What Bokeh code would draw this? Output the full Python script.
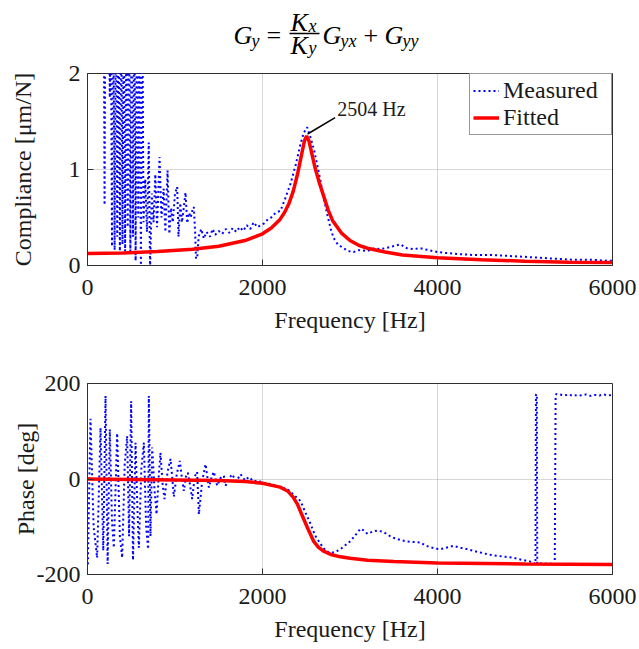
from bokeh.plotting import figure
from bokeh.layouts import column
from bokeh.models import Range1d, Legend, LegendItem, Label, FixedTicker
from bokeh.core.properties import value
from bokeh.embed import file_html
from bokeh.resources import INLINE

FONT = "Liberation Serif"
TXT = "#1a1a1a"
AX = "#303030"

# ---------------- data ----------------
comp_meas_f = [0, 185, 195, 205, 240, 255, 265, 280, 295, 310, 325, 340, 355, 370, 385, 400, 415,
               430, 445, 460, 475, 490, 505, 520, 535, 550, 565, 580, 595, 610, 625, 640, 660,
               680, 700, 715, 735, 755, 775, 795, 823, 845, 870, 890, 915, 935, 955, 975, 1000,
               1025, 1040, 1060, 1080, 1100, 1120, 1140, 1160, 1180, 1200, 1215, 1230, 1240,
               1255, 1270, 1300, 1330, 1360, 1400, 1430, 1460, 1500, 1540, 1580, 1620, 1660,
               1700, 1740, 1780, 1820, 1860, 1900, 1940, 1980, 2020, 2060, 2100, 2150, 2206,
               2260, 2320, 2380, 2430, 2470, 2510, 2550, 2590, 2625, 2663, 2700, 2743, 2780,
               2811, 2860, 2926, 2980, 3040, 3100, 3200, 3280, 3350, 3450, 3577, 3650, 3726,
               3800, 3900, 4000, 4100, 4229, 4400, 4606, 4800, 5000, 5177, 5350, 5554, 5750,
               5943, 6000]
comp_meas_v = [3.0, 3.0, 0.63, 3.0, 3.0, 1.75, 3.0, 0.2, 3.0, 0.16, 3.0, 0.3, 3.0, 0.15, 3.0, 0.22,
               3.0, 0.15, 3.0, 0.4, 3.0, 0.12, 3.0, 0.3, 3.0, 0.05, 3.0, 0.5, 3.0, -0.05, 3.0,
               0.45, 0.9, 0.35, 1.28, -0.05, 0.75, 0.45, 0.95, 0.4, 1.13, 0.5, 0.8, 0.35, 0.99,
               0.33, 0.6, 0.45, 0.75, 0.82, 0.3, 0.65, 0.45, 0.6, 0.76, 0.44, 0.55, 0.5, 0.58,
               0.61, 0.35, 0.07, 0.1, 0.3, 0.38, 0.28, 0.35, 0.3, 0.38, 0.32, 0.36, 0.33, 0.38,
               0.34, 0.39, 0.35, 0.4, 0.36, 0.42, 0.38, 0.45, 0.4, 0.42, 0.44, 0.48, 0.5, 0.55,
               0.57, 0.7, 0.85, 1.05, 1.25, 1.38, 1.44, 1.33, 1.2, 1.05, 0.88, 0.7, 0.52, 0.38,
               0.29, 0.22, 0.18, 0.15, 0.14, 0.16, 0.15, 0.18, 0.17, 0.19, 0.22, 0.18, 0.17,
               0.18, 0.16, 0.14, 0.13, 0.12, 0.11, 0.11, 0.1, 0.09, 0.08, 0.07, 0.06, 0.06,
               0.05, 0.05]

comp_fit_f = [0, 400, 800, 1200, 1500, 1800, 2000, 2100, 2200, 2250, 2300, 2350, 2400, 2450,
              2480, 2504, 2530, 2560, 2600, 2650, 2700, 2750, 2800, 2900, 3000, 3100, 3200,
              3400, 3600, 4000, 4500, 5000, 5500, 6000]
comp_fit_v = [0.125, 0.13, 0.145, 0.17, 0.2, 0.26, 0.33, 0.39, 0.48, 0.55, 0.64, 0.77, 0.95,
              1.17, 1.3, 1.35, 1.3, 1.18, 1.02, 0.86, 0.72, 0.58, 0.47, 0.34, 0.26, 0.21, 0.18,
              0.14, 0.11, 0.08, 0.06, 0.045, 0.035, 0.03]

phase_meas_f = [0, 4, 34, 70, 110, 149, 180, 206, 230, 255, 280, 301, 339, 370, 396, 425, 453,
                475, 499, 520, 549, 570, 587, 615, 644, 670, 693, 701, 720, 739, 765, 789, 812,
                834, 858, 880, 915, 949, 970, 987, 1020, 1055, 1080, 1101, 1125, 1147, 1170,
                1196, 1225, 1253, 1273, 1310, 1349, 1387, 1420, 1444, 1482, 1520, 1558, 1577,
                1615, 1653, 1700, 1749, 1800, 1844, 1900, 1950, 2000, 2080, 2150, 2220, 2286,
                2350, 2434, 2490, 2549, 2600, 2663, 2720, 2777, 2830, 2891, 2950, 3006, 3060,
                3120, 3160, 3200, 3260, 3314, 3383, 3440, 3497, 3580, 3657, 3730, 3806, 3860,
                3920, 3980, 4034, 4100, 4183, 4260, 4343, 4420, 4491, 4580, 4686, 4780, 4869,
                4930, 4983, 5040, 5097, 5120, 5125, 5135, 5140, 5200, 5260, 5330, 5340, 5350,
                5360, 5400, 5450, 5500, 5550, 5600, 5650, 5700, 5750, 5800, 5850, 5900, 5950,
                6000]
phase_meas_v = [-178, -178, 126, -100, -165, 107, -150, 174, -178, 104, -90, -144, 96, -120,
                -165, 30, 90, -120, 163, -170, 76, -60, -144, 20, 76, -100, -147, 174, -120, 66,
                -20, -74, 0, 55, -10, -42, 15, 42, 0, -37, 10, 38, 0, -25, 5, 13, -10, -42, 5,
                15, -74, -5, 31, -18, 5, 15, -14, 2, 7, -14, 0, 10, -5, 10, -3, 4, -5, -3, -8,
                -10, -14, -18, -21, -32, -46, -70, -94, -118, -136, -150, -155, -153, -147,
                -138, -130, -118, -104, -108, -115, -110, -108, -111, -118, -123, -128, -131,
                -132, -133, -139, -143, -146, -147, -144, -140, -144, -147, -151, -154, -158,
                -161, -163, -165, -168, -170, -172, -175, -178, 176, 178, -178, -176, -178,
                -177, -179, 176, 178, 177, 175, 177, 174, 176, 175, 177, 174, 176, 175, 177,
                175, 176]

phase_fit_f = [0, 500, 1000, 1500, 1800, 2000, 2200, 2286, 2350, 2400, 2450, 2514, 2583, 2640,
               2697, 2780, 2891, 3000, 3200, 3500, 4000, 5000, 6000]
phase_fit_v = [0, -1, -2, -3, -5, -9, -17, -25, -38, -53, -75, -102, -130, -143, -151, -158,
               -163, -166, -170, -173, -176, -178, -179]

peak_freq = 2504
peak_comp = 1.37
peak_label = "2504 Hz"

x_ticks = [0, 2000, 4000, 6000]
comp_ticks = [0, 1, 2]
phase_ticks = [-200, 0, 200]

# ---------------- title (math expression drawn from text pieces) ----------------
W = 639
FL, FR = 87, 612   # frame edges (the column aligns frames of all figures)
TH = 59
tfig = figure(width=W, height=TH, x_range=Range1d(FL, FR), y_range=Range1d(TH, 0),
              toolbar_location=None, output_backend="svg", min_border=0,
              min_border_left=FL, min_border_right=W - FR,
              x_axis_location=None, y_axis_location=None)
tfig.grid.visible = False
tfig.outline_line_color = None

big_text = ["G", "K", "K", "G", "G"]
big_x = [233, 290, 290, 322, 384]
big_y = [35, 22, 45, 35, 35]
sub_text = ["y", "x", "y", "yx", "yy"]
sub_x = [251, 308, 308, 340, 402]
sub_y = [40, 25, 47, 40, 40]
tfig.text(x=big_x, y=big_y, text=big_text, text_font_size="26px",
          text_font=value(FONT), text_font_style="italic", text_color="black",
          text_baseline="alphabetic", text_align="left")
tfig.text(x=sub_x, y=sub_y, text=sub_text, text_font_size="18px",
          text_font=value(FONT), text_font_style="italic", text_color="black",
          text_baseline="alphabetic", text_align="left")
tfig.text(x=[266, 363], y=[35, 35], text=["=", "+"], text_font_size="26px",
          text_font=value(FONT), text_color="black", text_baseline="alphabetic",
          text_align="left")
tfig.segment(x0=[289], y0=[33], x1=[319], y1=[33], line_color="black", line_width=1.3)


def style(p, ylabel, yticks, label_standoff):
    p.outline_line_color = AX
    p.outline_line_width = 1
    p.outline_line_alpha = 1
    for ax in (p.xaxis, p.yaxis):
        ax.axis_line_color = AX
        ax.major_tick_line_color = AX
        ax.major_tick_in = 6
        ax.major_tick_out = 0
        ax.minor_tick_line_color = None
        ax.major_label_text_font = FONT
        ax.major_label_text_font_size = "24px"
        ax.major_label_text_color = TXT
        ax.axis_label_text_font = FONT
        ax.axis_label_text_font_size = "24px"
        ax.axis_label_text_font_style = "normal"
        ax.axis_label_text_color = TXT
    p.xaxis.axis_label = "Frequency [Hz]"
    p.xaxis.ticker = FixedTicker(ticks=x_ticks)
    p.xaxis.major_label_standoff = 14
    p.xaxis.axis_label_standoff = 9
    p.yaxis.axis_label = ylabel
    p.yaxis.ticker = FixedTicker(ticks=yticks)
    p.yaxis.major_label_overrides = {t: str(t) for t in yticks}
    p.yaxis.major_label_standoff = 7
    p.yaxis.axis_label_standoff = label_standoff
    p.grid.grid_line_color = "#262626"
    p.grid.grid_line_alpha = 0.18
    p.grid.grid_line_width = 1
    p.xgrid.ticker = FixedTicker(ticks=x_ticks)
    p.ygrid.ticker = FixedTicker(ticks=yticks)


# ---------------- compliance ----------------
p1 = figure(width=W, height=276, x_range=Range1d(0, 6000), y_range=Range1d(0, 2),
            toolbar_location=None, output_backend="svg",
            min_border_left=FL, min_border_right=W - FR, min_border_top=14, min_border_bottom=70)
style(p1, "Compliance [μm/N]", comp_ticks, 30)
r_meas = p1.line(comp_meas_f, comp_meas_v, line_color="#0000ff", line_width=2, line_dash="2 3")
r_fit = p1.line(comp_fit_f, comp_fit_v, line_color="#ff0000", line_width=3.5)
p1.segment(x0=[peak_freq + 11], y0=[peak_comp], x1=[peak_freq + 326], y1=[1.54],
           line_color="black", line_width=1.5)
p1.add_layout(Label(x=peak_freq + 350, y=1.635, text=peak_label, text_font=FONT,
                    text_font_size="20px", text_color=TXT, text_baseline="middle"))
legend = Legend(items=[LegendItem(label="Measured", renderers=[r_meas]),
                       LegendItem(label="Fitted", renderers=[r_fit])],
                location="top_right", margin=0, padding=3, spacing=0,
                glyph_width=26, glyph_height=27, label_height=27, label_width=105,
                label_standoff=4, label_text_font=FONT, label_text_font_size="24px",
                label_text_color=TXT, border_line_color=AX, border_line_width=1,
                background_fill_alpha=1)
p1.add_layout(legend)

# ---------------- phase ----------------
p2 = figure(width=W, height=314, x_range=Range1d(0, 6000), y_range=Range1d(-200, 200),
            toolbar_location=None, output_backend="svg",
            min_border_left=FL, min_border_right=W - FR, min_border_top=48, min_border_bottom=75)
style(p2, "Phase [deg]", phase_ticks, -5)
p2.line(phase_meas_f, phase_meas_v, line_color="#0000ff", line_width=2, line_dash="2 3")
p2.line(phase_fit_f, phase_fit_v, line_color="#ff0000", line_width=3.5)

layout = column(tfig, p1, p2, spacing=0)
open("out.html", "w").write(file_html(layout, INLINE))
